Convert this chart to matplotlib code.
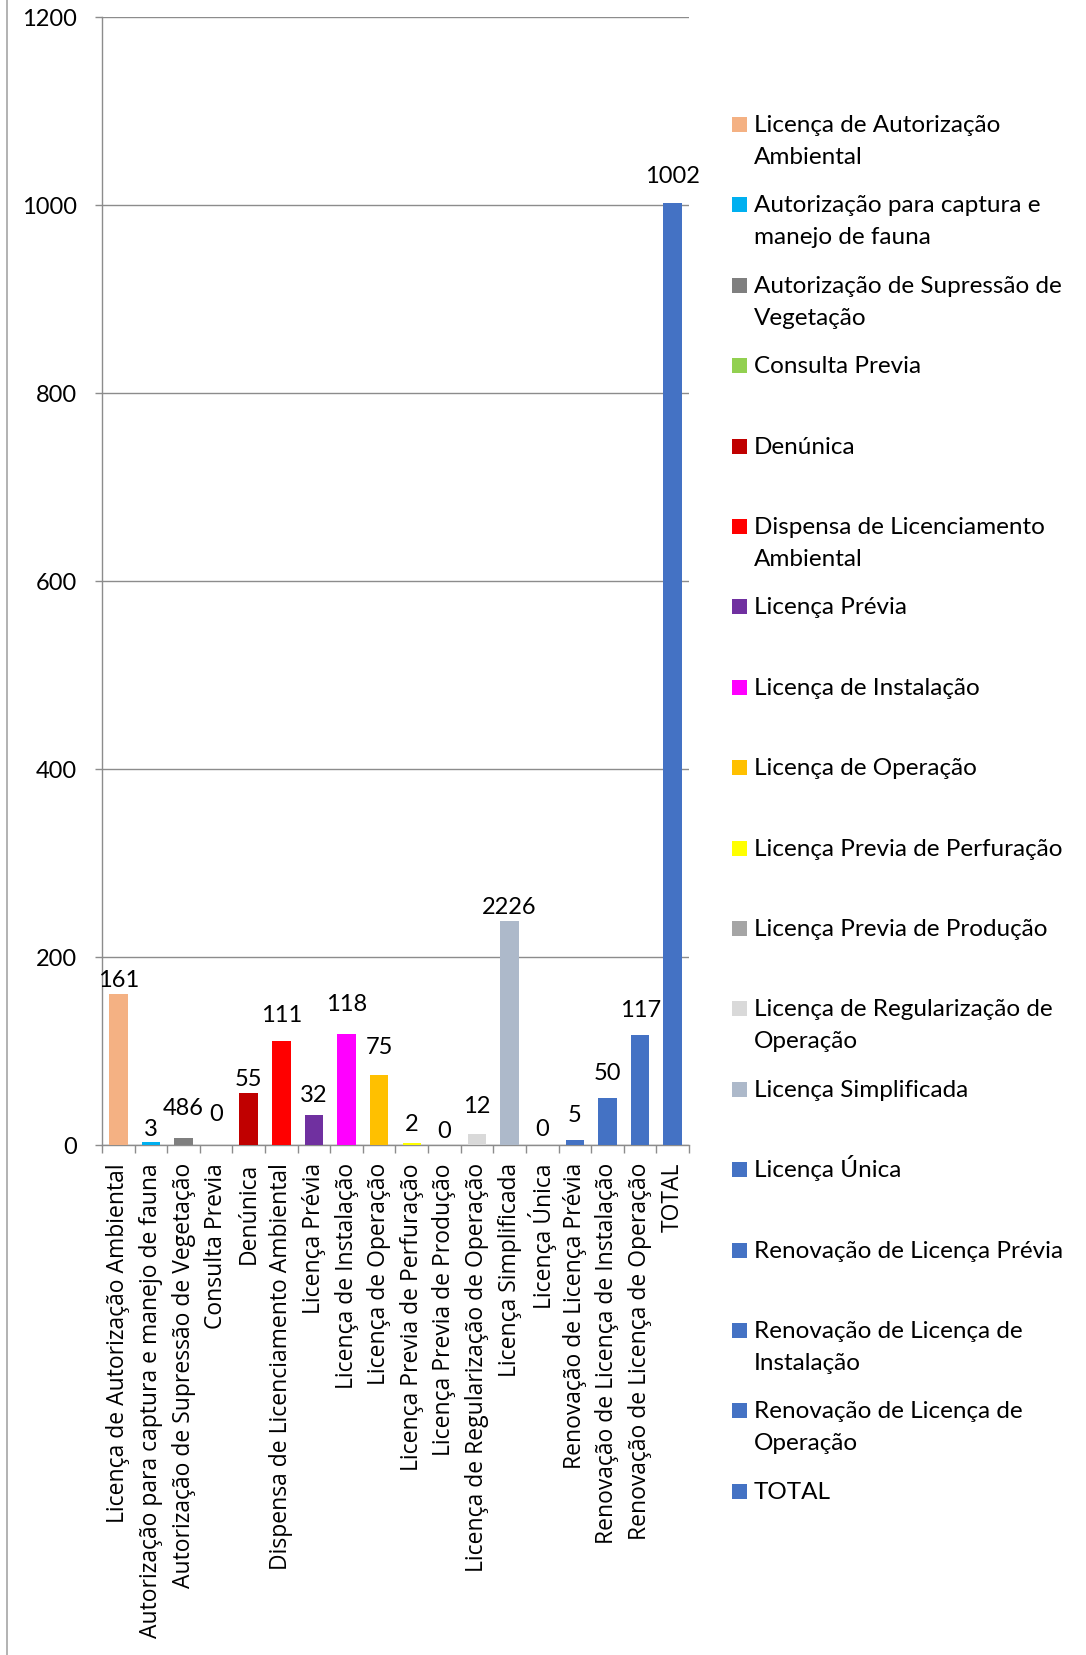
import matplotlib
matplotlib.use("Agg")
import matplotlib.pyplot as plt
from matplotlib.lines import Line2D
from matplotlib.patches import Rectangle

plt.rcParams['font.family'] = 'Lato'

# data
categories = [
    'Licença de Autorização Ambiental',
    'Autorização para captura e manejo de fauna',
    'Autorização de Supressão de Vegetação',
    'Consulta Previa',
    'Denúnica',
    'Dispensa de Licenciamento Ambiental',
    'Licença Prévia',
    'Licença de Instalação',
    'Licença de Operação',
    'Licença Previa de Perfuração',
    'Licença Previa de Produção',
    'Licença de Regularização de Operação',
    'Licença Simplificada',
    'Licença Única',
    'Renovação de Licença Prévia',
    'Renovação de Licença de Instalação',
    'Renovação de Licença de Operação',
    'TOTAL',
]
values = [161, 3, 7, 0, 55, 111, 32, 118, 75, 2, 0, 12, 238, 0, 5, 50, 117, 1002]
value_labels = ['161', '3', '486', '0', '55', '111', '32', '118', '75', '2', '0',
                '12', '2226', '0', '5', '50', '117', '1002']
legend_labels = [
    'Licença de Autorização\nAmbiental',
    'Autorização para captura e\nmanejo de fauna',
    'Autorização de Supressão de\nVegetação',
    'Consulta Previa',
    'Denúnica',
    'Dispensa de Licenciamento\nAmbiental',
    'Licença Prévia',
    'Licença de Instalação',
    'Licença de Operação',
    'Licença Previa de Perfuração',
    'Licença Previa de Produção',
    'Licença de Regularização de\nOperação',
    'Licença Simplificada',
    'Licença Única',
    'Renovação de Licença Prévia',
    'Renovação de Licença de\nInstalação',
    'Renovação de Licença de\nOperação',
    'TOTAL',
]

# style
colors = ['#F4B183', '#00B0F0', '#7F7F7F', '#92D050', '#C00000', '#FF0000',
          '#7030A0', '#FF00FF', '#FFC000', '#FFFF00', '#A5A5A5', '#D9D9D9',
          '#ADB9CA', '#4472C4', '#4472C4', '#4472C4', '#4472C4', '#4472C4']
# gap between bar top and label baseline, in pixels (labels were hand-placed)
label_gap_px = [7, 6, 23, 24, 7, 19, 13, 23, 20, 12, 7, 21, 7, 9, 18, 18, 18, 20]
GRID = '#8C8C8C'
FS = 17

W, H = 1086, 1655
fig = plt.figure(figsize=(W / 100, H / 100), dpi=100)
ax = fig.add_axes([102 / W, (H - 1145) / H, (689 - 102) / W, 1128 / H])

x = list(range(len(categories)))
ax.bar(x, values, width=0.57, color=colors, zorder=3)

for xi, v, lab, gap in zip(x, values, value_labels, label_gap_px):
    ax.annotate(lab, (xi, v), xytext=(0, gap * 0.72), textcoords='offset points',
                ha='center', va='baseline', fontsize=FS, color='black')

ax.set_xlim(-0.5, len(categories) - 0.5)
ax.set_ylim(0, 1200)
ax.set_yticks(range(0, 1201, 200))
ax.yaxis.grid(True, color=GRID, linewidth=1.0, zorder=0)
ax.set_axisbelow(True)

ax.set_xticks(x)
ax.set_xticklabels(categories, rotation=90, ha='center', va='top',
                   fontsize=16.5, family='Open Sans')
ax.set_xticks([i - 0.5 for i in range(len(categories) + 1)], minor=True)
ax.tick_params(axis='x', which='major', length=0, pad=13)
ax.tick_params(axis='x', which='minor', length=5.5, width=1.0, color=GRID)
ax.tick_params(axis='y', length=5, width=1.0, color=GRID, pad=13, labelsize=FS)

for s in ['top', 'right']:
    ax.spines[s].set_visible(False)
for s in ['left', 'bottom']:
    ax.spines[s].set_color(GRID)
    ax.spines[s].set_linewidth(1.0)

# legend drawn by hand, one entry every 80.4 px
for i, (lab, c) in enumerate(zip(legend_labels, colors)):
    base = 132 + 80.4 * i
    fig.add_artist(Rectangle((732 / W, 1 - (base) / H), 15 / W, 15 / H,
                             transform=fig.transFigure, facecolor=c,
                             edgecolor='none'))
    for j, line in enumerate(lab.split('\n')):
        fig.text(754 / W, 1 - (base + 32 * j) / H, line, ha='left',
                 va='baseline', fontsize=17.5, color='black')

# outer border on the left
fig.add_artist(Line2D([7 / W, 7 / W], [0, 1], transform=fig.transFigure,
                      color='#A6A6A6', linewidth=1.2))

fig.savefig('out.png', dpi=100, facecolor='white')
plt.close(fig)
